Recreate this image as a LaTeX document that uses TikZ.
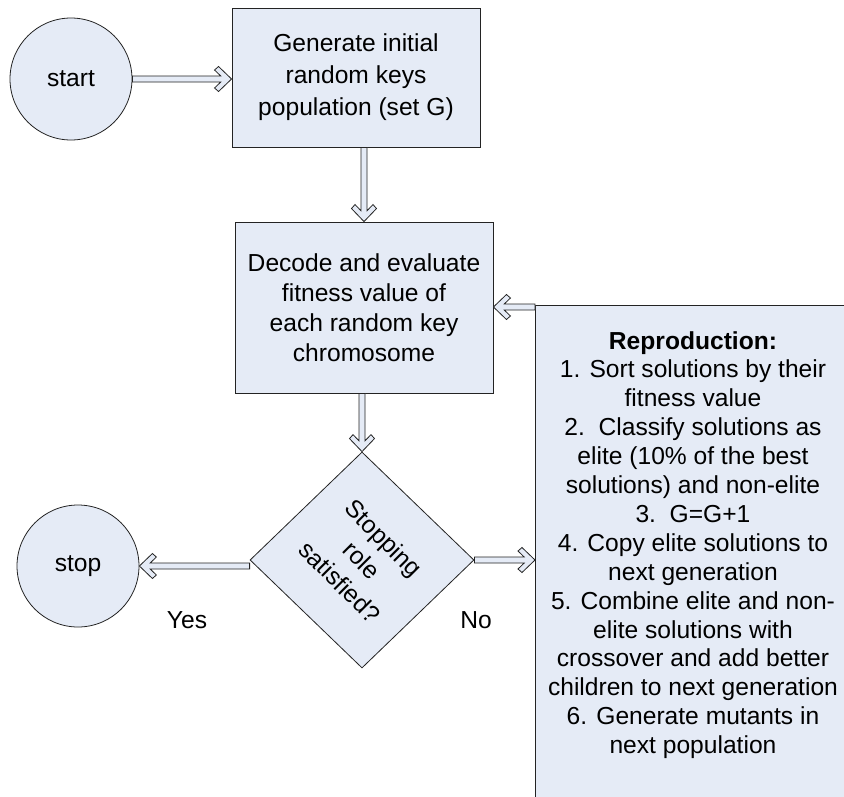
\documentclass[tikz,border=0pt]{standalone}
\usepackage{fontspec}
\setmainfont{Liberation Sans}
\usetikzlibrary{shapes.geometric,calc}
\definecolor{boxfill}{RGB}{229,235,246}
\definecolor{edge}{RGB}{35,35,35}
\newdimen\baX
\newdimen\baY
\newcommand\blockarrow[2]{%
  \path (#1) coordinate (baS) (#2) coordinate (baE);
  \pgfextractx{\baX}{\pgfpointdiff{\pgfpointanchor{baS}{center}}{\pgfpointanchor{baE}{center}}}%
  \pgfextracty{\baY}{\pgfpointdiff{\pgfpointanchor{baS}{center}}{\pgfpointanchor{baE}{center}}}%
  \pgfmathsetmacro\baLen{veclen(\baX,\baY)}%
  \pgfmathsetmacro\baAng{atan2(\baY,\baX)}%
  \begin{scope}[shift={(baS)},rotate=\baAng]
    \draw[arrowbody] (0,-3) -- ({\baLen-10.8},-3) -- ({\baLen-17},-9) -- ({\baLen-13},-12.5)
      -- (\baLen,0) -- ({\baLen-13},12.5) -- ({\baLen-17},9) -- ({\baLen-10.8},3) -- (0,3) -- cycle;
  \end{scope}
}
\tikzset{
  box/.style={draw=edge, fill=boxfill, line width=0.9pt, rectangle, inner sep=0pt, align=center},
  term/.style={draw=edge, fill=boxfill, line width=0.8pt, circle, inner sep=0pt, minimum size=122pt,
    font=\fontsize{24.6}{30}\selectfont},
  arrowbody/.style={draw=edge, fill=boxfill, line width=0.8pt, line join=miter},
  txt/.style={align=center, inner sep=0pt},
}
\begin{document}
\begin{tikzpicture}[x=1pt,y=-1pt]
\useasboundingbox (0,0) rectangle (844,796);
\clip (0,0) rectangle (844,796);
\fill[white] (0,0) rectangle (844,796);
% nodes
\node[term] (start) at (71,79) {start};
\node[box, minimum width=248pt, minimum height=139pt, font=\fontsize{24.6}{32}\selectfont] (gen) at (356,77.5)
  {Generate initial\\random keys\\population (set G)};
\node[box, minimum width=258pt, minimum height=171pt, font=\fontsize{24.6}{30}\selectfont] (dec) at (364,307.5)
  {Decode and evaluate\\fitness value of\\each random key\\chromosome};
\node[diamond, draw=edge, fill=boxfill, line width=0.8pt, minimum width=224pt, minimum height=216pt, inner sep=0pt] (dia) at (362,560) {};
\node[txt, rotate=-45, font=\fontsize{24.6}{31}\selectfont] (diatxt) at (dia.center) {Stopping\\role\\satisfied?};
\node[term] (stop) at (78,566) {stop};
\node[box, anchor=north west, minimum width=316pt, minimum height=520pt] (rep) at (535,305) {};
\node[txt, font=\fontsize{24.6}{28.9}\selectfont] (reptxt) at (693,545)
  {\textbf{Reproduction:}\\
   1. Sort solutions by their\\
   fitness value\\
   2.\ \ Classify solutions as\\
   elite (10\% of the best\\
   solutions) and non-elite\\
   3.\ \ G=G+1\\
   4. Copy elite solutions to\\
   next generation\\
   5. Combine elite and non-\\
   elite solutions with\\
   crossover and add better\\
   children to next generation\\
   6. Generate mutants in\\
   next population};
\node[txt, font=\fontsize{24.6}{30}\selectfont] (yes) at (187,620) {Yes};
\node[txt, font=\fontsize{24.6}{30}\selectfont] (no) at (476,620) {No};
% connectors
\blockarrow{start.east}{start.east -| gen.west}
\blockarrow{dec.north |- gen.south}{dec.north}
\blockarrow{dia.north |- dec.south}{dia.north}
\blockarrow{dia.west |- stop.east}{stop.east}
\blockarrow{dia.east}{dia.east -| rep.west}
\coordinate (fb) at ([yshift=-2pt]rep.north west);
\blockarrow{fb}{fb -| dec.east}
\end{tikzpicture}
\end{document}
